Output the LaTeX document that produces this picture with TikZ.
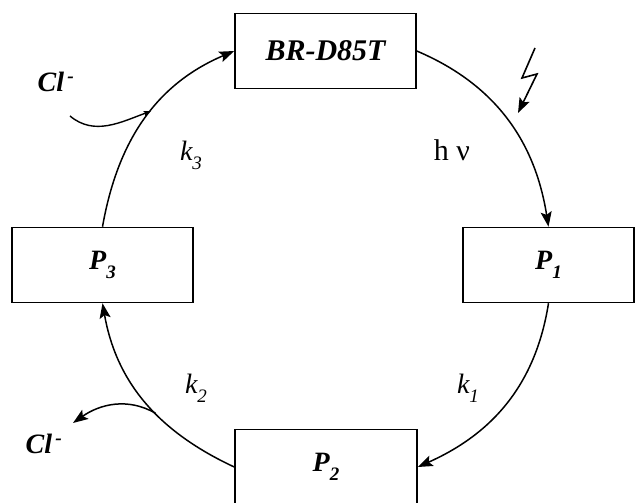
\documentclass[tikz,border=0pt]{standalone}
\usepackage{fontspec}
\setmainfont{Liberation Serif}
\usetikzlibrary{arrows.meta,positioning}
\newcommand{\lsub}[1]{\raisebox{-0.32em}{\fontsize{19}{20}\selectfont #1}}

\begin{document}
\begin{tikzpicture}[
    x=1pt, y=1pt,
    box/.style={draw, line width=1.5pt, minimum width=181pt, minimum height=75pt, inner sep=0pt, font=\fontsize{28}{30}\selectfont\bfseries\itshape},
    arrow/.style={-{Stealth[length=15pt, width=11pt, inset=3pt]}, line width=1.5pt},
    merge/.style={-{Stealth[length=7pt, width=5pt, inset=1pt]}, line width=1.4pt},
    lbl/.style={font=\fontsize{28}{30}\selectfont\itshape},
    ion/.style={font=\fontsize{28}{30}\selectfont\bfseries\itshape}
  ]
  \useasboundingbox (0,0) rectangle (635,503);
  % states of the cycle
  \node[box, font=\fontsize{30}{34}\selectfont\bfseries\itshape] (br) at (325.5,452) {BR-D85T};
  \node[box, minimum width=171pt] (p1) at (548.5,238) {P\lsub{1}};
  \node[box, minimum width=182pt] (p2) at (326,36) {P\lsub{2}};
  \node[box] (p3) at (102.5,238) {P\lsub{3}};
  % cycle arcs
  \draw[arrow] (br.east) to[out=-23, in=99] (p1.north);
  \draw[arrow] (p1.south) to[out=-99, in=24] (p2.east);
  \draw[arrow] (p2.west) to[out=155, in=-80] coordinate[pos=0.43] (j2) (p3.south);
  \draw[arrow] (p3.north) to[out=80, in=-157] coordinate[pos=0.55] (j3) (br.west);
  % chloride uptake and release
  \coordinate (cl3s) at (70,387);
  \coordinate (cl2e) at (73,80);
  \draw[merge] (cl3s) to[out=-40, in=200] (j3);
  \draw[arrow] (j2) to[out=150, in=35] (cl2e);
  \node[ion] (cl3) at (56,421) {Cl\textsuperscript{\,-}};
  \node[ion] (cl2) at (44,59) {Cl\textsuperscript{\,-}};
  % light
  \draw[arrow, line width=1.6pt] (535,455) -- (522,425) -- (537,429) -- (518,390);
  % rate labels
  \node[font=\fontsize{30}{34}\selectfont] (hv) at (452,353) {h ν};
  \node[lbl] (k1) at (468,115) {k\lsub{1}};
  \node[lbl] (k2) at (196,115) {k\lsub{2}};
  \node[lbl] (k3) at (191,348) {k\lsub{3}};
\end{tikzpicture}
\end{document}
